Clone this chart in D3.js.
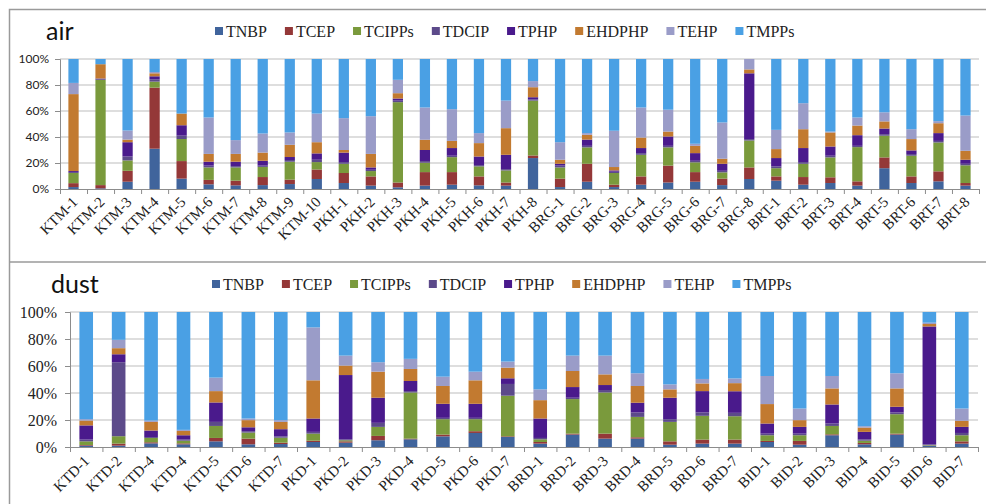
<!DOCTYPE html>
<html>
<head>
<meta charset="utf-8">
<script src="https://cdn.jsdelivr.net/npm/d3@7"></script>
<style>
  body { margin: 0; background: #fff; }
  svg { display: block; }
</style>
</head>
<body>
<div id="chart"></div>
<script>
// series, bottom to top
let seriesNames = ["TNBP", "TCEP", "TCIPPs", "TDCIP", "TPHP", "EHDPHP", "TEHP", "TMPPs"];
let seriesColors = ["#40649c", "#943838", "#7a9a3c", "#5c4a8a", "#4a1a8c", "#c27a30", "#9a9cc8", "#4aa0e4"];
let yTicks = [0, 0.2, 0.4, 0.6, 0.8, 1];

// air samples
let airSites = ["KTM-1", "KTM-2", "KTM-3", "KTM-4", "KTM-5", "KTM-6", "KTM-7", "KTM-8", "KTM-9", "KTM-10",
    "PKH-1", "PKH-2", "PKH-3", "PKH-4", "PKH-5", "PKH-6", "PKH-7", "PKH-8",
    "BRG-1", "BRG-2", "BRG-3", "BRG-4", "BRG-5", "BRG-6", "BRG-7", "BRG-8",
    "BRT-1", "BRT-2", "BRT-3", "BRT-4", "BRT-5", "BRT-6", "BRT-7", "BRT-8"];
let airTNBP   = [1.5,0.5,5.6,31,8,3.6,2.8,3,3.8,7.7, 4.6,2.6,1.3,2.6,3.3,2.8,2.6,23.8, 1.5,5.6,1.5,3.3,5,5.6,3,7.7, 6.4,3.3,4.6,2.6,16,4.6,5.9,2.6];
let airTCEP   = [3,2.5,8.4,47,13.5,3.4,3.6,6.2,3.4,7.3, 7.7,7.1,3.7,10.4,9.7,6.9,2.4,2, 6.5,13.8,1.8,6.4,13,7.4,5,8.9, 3.3,5.9,4.4,3.3,8.3,5.1,7.7,2];
let airTCIPPs = [7.8,81,8,4.6,17,9.6,10.2,7.8,13.8,5.7, 7.1,4.1,61.8,7.2,11.5,7.7,9.3,42.2, 8.6,12.6,9,16.6,14,7.5,4.8,20.7, 6.3,10.2,15.3,26.3,16.7,15.9,22.2,13.6];
let airTDCIP  = [0.7,0.7,3,1.8,2.6,1.4,1,1,1.3,1.8, 1.3,1,1.2,1.3,1.1,1,1,1, 1.4,1.2,1,1.3,1.2,1.2,1.2,1.1, 1.4,1.3,1.3,1,1.2,1.3,1.2,1.2];
let airTPHP   = [0.8,0.3,11,2.3,8,3,3.4,3.7,2.3,4.9, 7.3,1.8,1.6,8.5,5.9,6.6,11,1.6, 1.4,4.8,1,3.9,7.2,5.9,5.4,50.6, 6.4,10.8,7.1,8.2,4.3,2.8,6,3.1];
let airEHDPHP = [59.2,11,2,2.3,9,6,6,6.3,9.4,8.6, 2,10.4,4.1,7.9,5.5,10.3,20.5,7.7, 3.1,3.7,2.6,8.1,3.8,5.6,3.9,3, 6.9,14.5,10.8,7.4,5.5,8.7,7.6,6.9];
let airTEHP   = [8.6,0,7,1,0,28,10.6,14.7,9.5,22, 24.5,29,10.3,24.8,24.4,7.7,21.2,4.7, 13.5,1.3,27.9,23.1,16.8,1.6,27.9,8, 14.8,20,0.7,6.2,7,7.6,1.6,27.1];
let airTMPPs  = [18.4,4,55,10,42,45,62.4,57.3,56.5,42, 45.5,44,16,37.3,38.6,57,32,17, 64,57,55.2,37.3,39,65.2,48.8,0, 54.5,34,55.8,45,41,54,47.8,43.5];

// dust samples (KTD-4 appears twice in the original)
let dustSites = ["KTD-1", "KTD-2", "KTD-4", "KTD-4", "KTD-5", "KTD-6", "KTD-7",
    "PKD-1", "PKD-2", "PKD-3", "PKD-4", "PKD-5", "PKD-6", "PKD-7",
    "BRD-1", "BRD-2", "BRD-3", "BRD-4", "BRD-5", "BRD-6", "BRD-7",
    "BID-1", "BID-2", "BID-3", "BID-4", "BID-5", "BID-6", "BID-7"];
let dustTNBP   = [1,1,2.7,2,4.2,2,2.2, 3.7,3.2,5,5.7,7.9,10.4,7.4, 2.5,9.2,6.2,6.2,1.7,2.5,2.5, 3.7,1.7,8.7,2,9.2,1,2.5];
let dustTCEP   = [0.5,1.5,0.8,0.7,2.5,4.2,1, 1,1,3.2,0.5,1.3,1.3,0.5, 1.2,0.7,3.7,1,2.5,3,3, 0.8,2.8,0.7,1,0.7,0.2,1.7];
let dustTCIPPs = [2.7,5.5,3.2,2,8.9,4.5,3.7, 5.2,0.8,6.7,34.2,11.4,8.9,30.1, 2,25.6,30.5,15.1,14.4,17.6,17.3, 4.2,4.2,6.2,1.7,14.4,0.3,4.5];
let dustTDCIP  = [1.3,54.8,0.7,0.8,3,1,1, 1.3,0.7,3,1,1,1,8.7, 1,1,1.8,3.3,2,2.5,2.5, 1.2,1.2,1.8,1,1.3,0.5,1.7];
let dustTPHP   = [10.5,5.9,4.8,3.2,14.4,2.9,5.3, 9.9,47.6,18.6,7.5,10.4,10.4,4.2, 14.4,7.9,3.7,7.2,15.9,15.8,16, 7.5,5,14.1,5.5,4.2,87.3,4.5];
let dustEHDPHP = [3.6,4.5,6.4,3.2,8.4,5.3,5.4, 28.3,7,19.3,8.9,13.2,17.4,7.9, 13.6,11.9,7.9,12.4,6.2,5.7,6, 14.4,5,11.9,3.2,13.6,1.8,4.5];
let dustTEHP   = [1,6.2,1,0.8,10,1.2,1.3, 39.2,7.4,7,7.5,6.9,6.4,4.5, 8,11.4,13.9,9.4,3.7,3.3,3.5, 20.8,8.6,9.2,1,11.2,1,9.1];
let dustTMPPs  = [79.4,20.6,80.4,87.3,48.6,78.9,80.1, 11.4,32.3,37.2,34.7,47.9,44.2,36.7, 57.3,32.3,32.3,45.4,53.6,49.6,49.2, 47.4,71.5,47.4,84.6,45.4,7.9,71.5];

let W = 986, H = 504;
let svg = d3.select("#chart").append("svg")
    .attr("width", W)
    .attr("height", H);

// outer frame and divider between the panels
svg.append("rect")
    .attr("x", 9.5).attr("y", 9.5)
    .attr("width", W + 20).attr("height", H + 20)
    .attr("fill", "none")
    .attr("stroke", "#9a9a9a")
    .attr("stroke-width", 1.5);
svg.append("line")
    .attr("x1", 9).attr("x2", W)
    .attr("y1", 262).attr("y2", 262)
    .attr("stroke", "#9a9a9a")
    .attr("stroke-width", 1.5);

let serif = "'Liberation Serif', 'Times New Roman', serif";
let sans = "Lato, 'Open Sans', sans-serif";

function drawPanel(cfg) {
    // build rows for d3.stack
    let rows = cfg.sites.map(function(s, i) {
        let r = {idx: i, site: s};
        seriesNames.forEach(function(n, k) { r[n] = cfg.values[k][i]; });
        return r;
    });
    let stacked = d3.stack().keys(seriesNames).offset(d3.stackOffsetExpand)(rows);

    let x = d3.scaleBand()
        .domain(d3.range(cfg.sites.length))
        .range([cfg.left, cfg.right])
        .paddingInner(cfg.pad)
        .paddingOuter(cfg.pad / 2);
    let xb = d3.scaleLinear()
        .domain([0, cfg.sites.length])
        .range([cfg.left, cfg.right]);
    let y = d3.scaleLinear()
        .domain([0, 1])
        .range([cfg.bottom, cfg.top]);

    let g = svg.append("g");

    // gridlines
    g.selectAll(".grid")
        .data(yTicks.slice(1))
        .enter().append("line")
        .attr("x1", cfg.left).attr("x2", cfg.right)
        .attr("y1", function(d) { return y(d); })
        .attr("y2", function(d) { return y(d); })
        .attr("stroke", "#bdbdbd")
        .attr("stroke-width", 1);

    // bars
    g.selectAll(".layer")
        .data(stacked)
        .enter().append("g")
        .attr("fill", function(d, k) { return seriesColors[k]; })
        .selectAll("rect")
        .data(function(d) { return d; })
        .enter().append("rect")
        .attr("x", function(d) { return x(d.data.idx); })
        .attr("width", x.bandwidth())
        .attr("y", function(d) { return y(d[1]); })
        .attr("height", function(d) { return Math.max(0, y(d[0]) - y(d[1])); });

    // Y axis
    let yAxis = g.append("g")
        .attr("transform", "translate(" + cfg.left + ",0)")
        .call(d3.axisLeft(y).tickValues(yTicks).tickFormat(d3.format(".0%")).tickSize(5).tickPadding(cfg.yPad));
    yAxis.selectAll("line, path").attr("stroke", "#8c8c8c");
    yAxis.selectAll("text")
        .style("font-family", cfg.tickFont)
        .style("font-size", cfg.tickSize + "px")
        .attr("fill", "#222");

    // X axis with ticks between categories
    let xAxis = g.append("g")
        .attr("transform", "translate(0," + cfg.bottom + ")")
        .call(d3.axisBottom(xb).tickValues(d3.range(cfg.sites.length + 1)).tickFormat("").tickSize(5).tickSizeOuter(0));
    xAxis.selectAll("line, path").attr("stroke", "#8c8c8c");

    // category labels
    g.selectAll(".cat")
        .data(cfg.sites)
        .enter().append("text")
        .attr("transform", function(d, i) {
            return "translate(" + (x(i) + x.bandwidth() / 2 + cfg.labDx) + "," + (cfg.bottom + cfg.labDy) + ") rotate(-45)";
        })
        .attr("text-anchor", "end")
        .style("font-family", serif)
        .style("font-size", cfg.labSize + "px")
        .attr("fill", "#222")
        .text(function(d) { return d; });

    // title
    g.append("text")
        .attr("x", cfg.titleX).attr("y", cfg.titleY)
        .style("font-family", sans)
        .style("font-size", "25px")
        .attr("fill", "#111")
        .text(cfg.title);

    // legend
    let leg = g.append("g").attr("transform", "translate(" + cfg.legX + "," + cfg.legY + ")");
    let cx = 0;
    seriesNames.forEach(function(n, k) {
        leg.append("rect")
            .attr("x", cx).attr("y", -4)
            .attr("width", 8).attr("height", 8)
            .attr("fill", seriesColors[k]);
        let t = leg.append("text")
            .attr("x", cx + 11).attr("y", 0)
            .attr("dy", "0.35em")
            .style("font-family", serif)
            .style("font-size", "16px")
            .attr("fill", "#222")
            .text(n);
        cx += 11 + t.node().getComputedTextLength() + 18;
    });
}

drawPanel({
    title: "air", titleX: 46, titleY: 40,
    sites: airSites,
    values: [airTNBP, airTCEP, airTCIPPs, airTDCIP, airTPHP, airEHDPHP, airTEHP, airTMPPs],
    left: 60, right: 979, top: 59, bottom: 189, pad: 0.62,
    tickFont: sans, tickSize: 12, yPad: 6,
    labSize: 15, labDx: 5, labDy: 14,
    legX: 215, legY: 31
});

drawPanel({
    title: "dust", titleX: 51, titleY: 293,
    sites: dustSites,
    values: [dustTNBP, dustTCEP, dustTCIPPs, dustTDCIP, dustTPHP, dustEHDPHP, dustTEHP, dustTMPPs],
    left: 70, right: 978, top: 312, bottom: 447, pad: 0.58,
    tickFont: serif, tickSize: 16, yPad: 8,
    labSize: 15, labDx: 4, labDy: 15,
    legX: 212, legY: 284
});
</script>
</body>
</html>
